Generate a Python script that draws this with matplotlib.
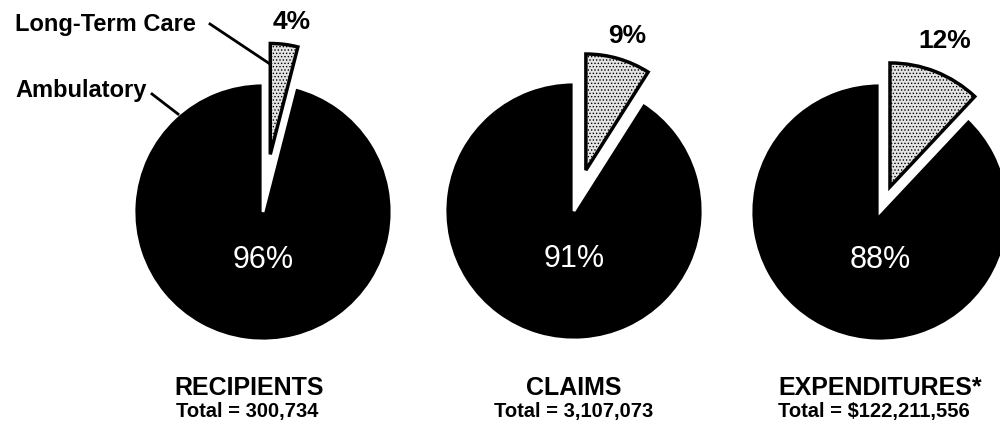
import matplotlib.pyplot as plt
import matplotlib.patheffects as pe

plt.rcParams['font.family'] = ['Liberation Sans', 'DejaVu Sans']
plt.rcParams['hatch.linewidth'] = 0.6

# shares: ambulatory vs long-term care
titles = ['RECIPIENTS', 'CLAIMS', 'EXPENDITURES*']
totals = ['Total = 300,734', 'Total = 3,107,073', 'Total = $122,211,556']
ambulatory = [96, 91, 88]
long_term = [4, 9, 12]

# layout (pixel units, y up)
centers = [(263, 222), (574, 223), (880, 222)]
radius = 129
explode_amt = [0.45, 0.33, 0.21]
small_r = [0.86, 0.9, 0.96]

W, H = 1000, 435
fig = plt.figure(figsize=(W / 100, H / 100), dpi=100)
ax = fig.add_axes([0, 0, 1, 1])

for i in range(3):
    cx, cy = centers[i]
    # pie() takes explode in data units here, so scale by the radius
    wedges, _ = ax.pie([long_term[i], ambulatory[i]], center=(cx, cy), radius=radius,
                       startangle=90, counterclock=False,
                       explode=[explode_amt[i] * radius, 0], colors=['#e4e4e4', 'black'],
                       frame=True)
    big = wedges[1]
    big.set_edgecolor('white')
    big.set_linewidth(2)
    small = wedges[0]
    small.set_radius(radius * small_r[i])
    small.set_edgecolor('black')
    small.set_linewidth(2.5)
    small.set_hatch('.....')
    small.set_zorder(3)
    small.set_path_effects([pe.Stroke(linewidth=9, foreground='white'), pe.Normal()])

    ax.text(cx, cy - 47, '%d%%' % ambulatory[i], color='white', fontsize=22,
            ha='center', va='center')
    ax.text(cx - 14 if i == 0 else cx, H - 388, titles[i],
            fontsize=18, fontweight='bold', ha='center', va='center')
    ax.text(cx - 16 if i == 0 else cx - 6 if i == 2 else cx, H - 412, totals[i],
            fontsize=14.5, fontweight='bold', ha='center', va='center')

# small-slice percentages above each wedge
ax.text(292, H - 22, '%d%%' % long_term[0], fontsize=19, fontweight='bold', ha='center', va='center')
ax.text(627, H - 36, '%d%%' % long_term[1], fontsize=19, fontweight='bold', ha='center', va='center')
ax.text(945, H - 41, '%d%%' % long_term[2], fontsize=19, fontweight='bold', ha='center', va='center')

# category callouts on the first pie
ax.text(15, H - 25, 'Long-Term Care', fontsize=17, fontweight='bold', ha='left', va='center')
ax.plot([210, 270], [H - 25, H - 65], color='black', lw=2, zorder=5)
ax.text(15, H - 91, 'Ambulatory', fontsize=17, fontweight='bold', ha='left', va='center')
ax.plot([152, 178], [H - 95, H - 115], color='black', lw=2, zorder=5)

ax.set_xlim(0, W)
ax.set_ylim(0, H)
ax.set_aspect('equal')
ax.axis('off')

fig.savefig('out.png', dpi=100)
